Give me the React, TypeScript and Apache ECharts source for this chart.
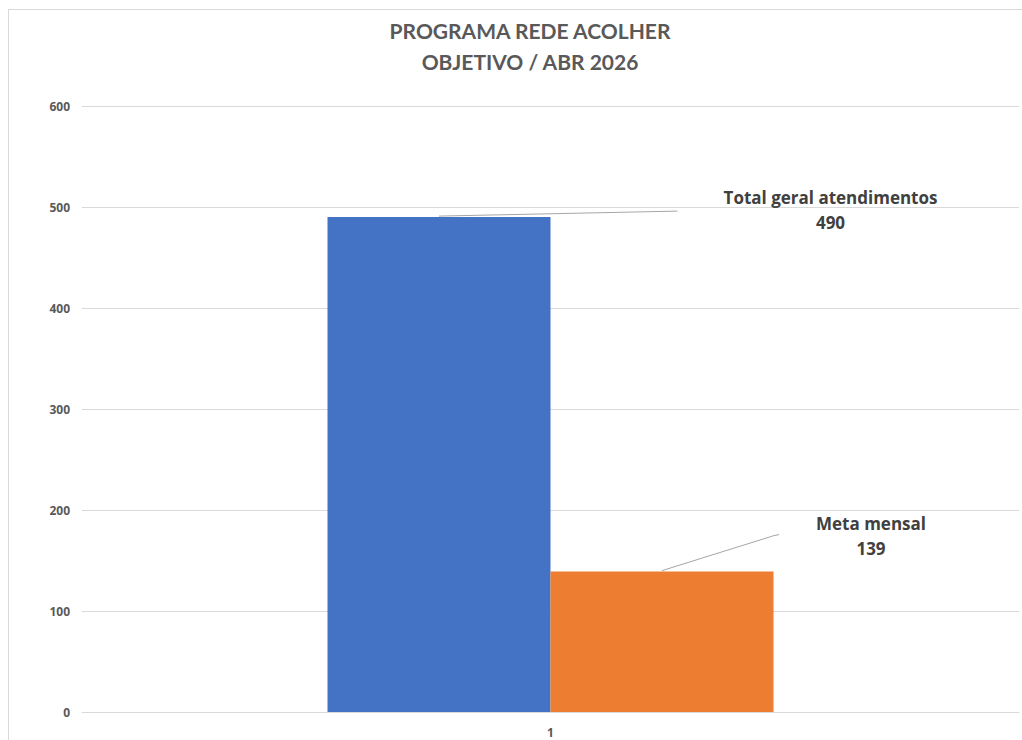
import React, { useEffect, useRef } from "react";
import * as echarts from "echarts";

const titleLines = ["PROGRAMA REDE ACOLHER", "OBJETIVO / ABR 2026"];
const categories = ["1"];
const seriesNames = ["Total geral atendimentos", "Meta mensal"];
const totalValues = [490];
const metaValues = [139];
const yTicks = { min: 0, max: 600, interval: 100 };
const colors = ["#4472C4", "#ED7D31"];

const FONT = "'Open Sans', Lato, sans-serif";

// label offsets relative to each bar's top-centre (styling only)
const labelOffsets = [
  { dx: 391.5, dy: -7, line: [[0, -1], [238.5, -6]] },
  { dx: 209, dy: -35.5, line: [[0, -1], [112, -36], [117, -37]] },
];

export default function App() {
  const ref = useRef<HTMLDivElement>(null);
  useEffect(() => {
    if (!ref.current) return;
    const chart = echarts.init(ref.current, undefined, { renderer: "svg" });
    const rects: any[] = [];
    const labelStyle = {
      show: true,
      formatter: "{a}\n{c}",
      fontFamily: FONT,
      fontSize: 17,
      fontWeight: "bold",
      color: "#404040",
      lineHeight: 25,
      align: "center",
    };
    const makeLayout = (i: number) => (p: any) => {
      const r = p.rect;
      rects[i] = { x: r.x, y: r.y, width: r.width, height: r.height };
      const cx = r.x + r.width / 2;
      return {
        x: cx + labelOffsets[i].dx,
        y: r.y + labelOffsets[i].dy,
        align: "center",
        verticalAlign: "middle",
      };
    };
    chart.setOption({
      animation: false,
      backgroundColor: "#ffffff",
      title: {
        text: titleLines.join("\n"),
        left: 525,
        textAlign: "center",
        top: 10,
        textStyle: {
          fontFamily: "Lato, sans-serif",
          fontSize: 21,
          fontWeight: "bold",
          color: "#595959",
          lineHeight: 31,
        },
      },
      grid: { left: 82, right: 3, top: 106, bottom: 28, containLabel: false },
      xAxis: {
        type: "category",
        data: categories,
        axisLine: { show: true, lineStyle: { color: "#D9D9D9", width: 1 } },
        axisTick: { show: false },
        axisLabel: {
          color: "#595959",
          fontFamily: FONT,
          fontSize: 12,
          fontWeight: "bold",
          margin: 14,
        },
      },
      yAxis: {
        type: "value",
        min: yTicks.min,
        max: yTicks.max,
        interval: yTicks.interval,
        axisLine: { show: false },
        axisTick: { show: false },
        axisLabel: {
          color: "#595959",
          fontFamily: FONT,
          fontSize: 12,
          fontWeight: "bold",
          margin: 12,
        },
        splitLine: { lineStyle: { color: "#D9D9D9", width: 1 } },
      },
      series: [
        {
          name: seriesNames[0],
          type: "bar",
          data: totalValues,
          barWidth: 223,
          barGap: "0%",
          itemStyle: { color: colors[0] },
          label: labelStyle,
          labelLayout: makeLayout(0),
        },
        {
          name: seriesNames[1],
          type: "bar",
          data: metaValues,
          barWidth: 223,
          barGap: "0%",
          itemStyle: { color: colors[1] },
          label: labelStyle,
          labelLayout: makeLayout(1),
        },
      ],
    });

    const graphics: any[] = [
      {
        type: "line",
        shape: { x1: 8, y1: 9.5, x2: 1022, y2: 9.5 },
        style: { stroke: "#D9D9D9", lineWidth: 1 },
      },
      {
        type: "line",
        shape: { x1: 8.5, y1: 9, x2: 8.5, y2: 740 },
        style: { stroke: "#D9D9D9", lineWidth: 1 },
      },
    ];
    rects.forEach((r, i) => {
      if (!r) return;
      const cx = r.x + r.width / 2;
      graphics.push({
        type: "polyline",
        z: 10,
        shape: {
          points: labelOffsets[i].line.map(([dx, dy]) => [cx + dx, r.y + dy]),
        },
        style: { stroke: "#A6A6A6", lineWidth: 1, fill: "none" },
      });
    });
    chart.setOption({ graphic: graphics });
    return () => chart.dispose();
  }, []);
  return (
    <div
      ref={ref}
      style={{ position: "absolute", left: 0, top: 0, width: 1022, height: 740 }}
    />
  );
}
